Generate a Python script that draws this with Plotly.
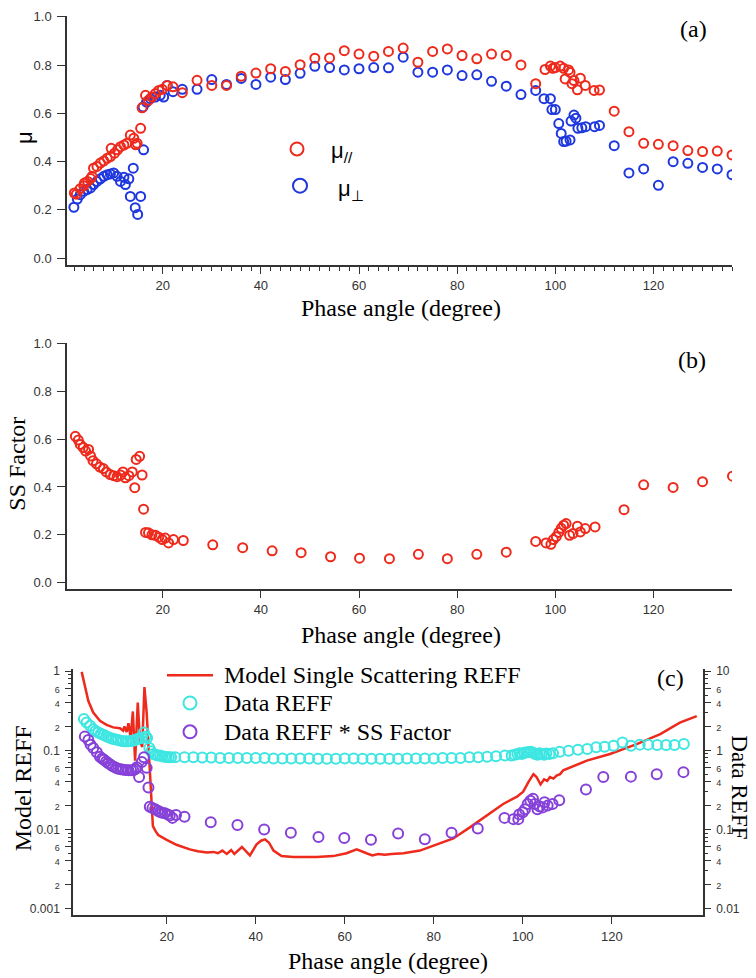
import plotly.graph_objects as go

# ---------------- data ----------------
# Panel (a): mu parallel / mu perpendicular vs phase angle
mu_par_angle = [2.0, 2.4, 3.2, 3.9, 4.05, 4.7, 5.3, 5.6, 5.9, 6.6, 7.3, 8.0, 8.7, 9.35, 9.5, 10.2, 10.8, 11.4,
                12.1, 12.7, 13.4, 14.1, 14.5, 14.8, 15.5, 15.8, 16.5, 17.1, 17.8, 18.5, 19.2, 19.9, 20.9, 22.1,
                24, 27, 30, 33, 36, 39, 42, 45, 48, 51, 54, 57, 60, 63, 66, 69, 72, 75, 78, 81, 84, 87, 90, 93,
                96, 97.9, 99.0, 99.5, 100.0, 101.0, 101.7, 102.0, 102.7, 103.0, 103.4, 103.8, 104.5, 105.1,
                106.1, 107.9, 109.0, 112, 115, 118, 121, 124, 127, 130, 133, 136]
mu_par = [0.27, 0.265, 0.288, 0.30, 0.311, 0.318, 0.33, 0.339, 0.373, 0.38, 0.394, 0.403, 0.414, 0.421, 0.455,
          0.435, 0.449, 0.462, 0.469, 0.476, 0.51, 0.497, 0.47, 0.476, 0.538, 0.623, 0.675, 0.654, 0.668, 0.682,
          0.695, 0.70, 0.716, 0.71, 0.686, 0.737, 0.716, 0.716, 0.754, 0.767, 0.785, 0.774, 0.802, 0.829, 0.830,
          0.860, 0.846, 0.837, 0.857, 0.871, 0.812, 0.857, 0.867, 0.840, 0.826, 0.846, 0.840, 0.801, 0.723,
          0.782, 0.796, 0.787, 0.79, 0.796, 0.787, 0.743, 0.78, 0.77, 0.723, 0.736, 0.698, 0.746, 0.716, 0.695,
          0.697, 0.609, 0.524, 0.476, 0.472, 0.466, 0.446, 0.442, 0.444, 0.428]

mu_perp_angle = [1.9, 2.6, 3.2, 3.9, 4.6, 5.3, 5.9, 6.6, 7.3, 8.0, 8.7, 9.35, 10.0, 10.7, 11.4, 12.1, 12.4, 13.1,
                 13.4, 14.0, 14.4, 14.9, 15.5, 16.0, 16.1, 16.7, 17.5, 18.5, 19.5, 20.2, 20.9, 22.1, 24, 27, 30,
                 33, 36, 39, 42, 45, 48, 51, 54, 57, 60, 63, 66, 69, 72, 75, 78, 81, 84, 87, 90, 93, 96, 97.7,
                 99.0, 99.3, 100.0, 100.7, 101.2, 101.7, 102.2, 103.0, 103.2, 103.8, 104.2, 104.6, 105.4, 106.2,
                 108.0, 109.0, 112, 115, 118, 121, 124, 127, 130, 133, 136]
mu_perp = [0.211, 0.245, 0.263, 0.277, 0.284, 0.291, 0.305, 0.318, 0.329, 0.339, 0.346, 0.349, 0.353, 0.339,
           0.318, 0.335, 0.305, 0.329, 0.256, 0.373, 0.209, 0.181, 0.256, 0.627, 0.449, 0.647, 0.661, 0.668,
           0.675, 0.668, 0.716, 0.69, 0.70, 0.70, 0.74, 0.72, 0.745, 0.72, 0.75, 0.74, 0.766, 0.795, 0.79, 0.78,
           0.785, 0.79, 0.789, 0.833, 0.771, 0.771, 0.78, 0.757, 0.76, 0.733, 0.713, 0.678, 0.695, 0.661, 0.661,
           0.616, 0.616, 0.558, 0.517, 0.483, 0.485, 0.49, 0.568, 0.593, 0.58, 0.538, 0.54, 0.545, 0.545, 0.55,
           0.466, 0.353, 0.37, 0.302, 0.40, 0.393, 0.376, 0.37, 0.346]

# Panel (b): SS factor
ss_angle = [2.2, 2.8, 3.2, 3.8, 4.3, 4.9, 5.3, 5.8, 6.5, 7.2, 7.9, 8.5, 9.3, 10.0, 10.7, 11.4, 11.9, 12.4, 13.1,
            13.8, 14.3, 14.6, 15.3, 15.8, 16.1, 16.5, 17.1, 17.8, 18.5, 19.2, 19.9, 20.5, 21.2, 22.2, 24.2, 30.2,
            36.3, 42.3, 48.2, 54.2, 60.1, 66.2, 72.1, 78.0, 84.0, 90.0, 96.0, 98.1, 99.1, 99.6, 100.2, 100.7,
            101.2, 101.7, 102.2, 102.9, 103.6, 104.5, 105.1, 106.1, 108.1, 114.0, 118.0, 124.0, 130.0, 136.1]
ss_factor = [0.612, 0.596, 0.578, 0.565, 0.55, 0.557, 0.53, 0.51, 0.497, 0.483, 0.477, 0.463, 0.452, 0.447, 0.443,
             0.45, 0.463, 0.438, 0.447, 0.463, 0.397, 0.515, 0.528, 0.45, 0.307, 0.21, 0.208, 0.20, 0.198, 0.19,
             0.18, 0.186, 0.166, 0.18, 0.176, 0.158, 0.146, 0.133, 0.125, 0.108, 0.102, 0.10, 0.118, 0.10, 0.118,
             0.127, 0.172, 0.166, 0.16, 0.18, 0.192, 0.21, 0.227, 0.24, 0.247, 0.198, 0.205, 0.236, 0.212, 0.226,
             0.233, 0.305, 0.409, 0.398, 0.422, 0.445]

# Panel (c): model single scattering REFF (left axis)
model_angle = [0.9, 1.6, 2.4, 3.5, 5.0, 6.5, 8.0, 9.5, 10.2, 10.5, 11.0, 11.4, 11.9, 12.4, 12.9, 13.5, 14.0, 14.5,
               15.0, 15.5, 15.9, 16.3, 16.6, 16.9, 17.5, 18.1, 20.0, 22.2, 25.2, 27.0, 29.0, 30.5, 31.5, 32.5,
               33.5, 34.5, 35.2, 36.9, 38.7, 40.2, 41.2, 42.1, 43.0, 44.0, 45.8, 48.4, 53.7, 57.4, 60.4, 62.7,
               64.9, 66.2, 67.5, 69.0, 70.5, 73.2, 76.9, 80.7, 84.4, 88.2, 91.9, 95.6, 98.7, 100.1, 101.3, 102.4,
               103.1, 104.0, 104.8, 105.5, 106.1, 106.9, 107.6, 108.4, 109.1, 114.4, 119.6, 125.6, 130.9, 135.3,
               139.1]
model_reff = [0.98, 0.68, 0.42, 0.30, 0.236, 0.21, 0.195, 0.19, 0.177, 0.20, 0.17, 0.22, 0.145, 0.31, 0.074, 0.40,
              0.13, 0.11, 0.63, 0.30, 0.12, 0.05, 0.02, 0.011, 0.0095, 0.0085, 0.0074, 0.0064, 0.0056, 0.0053,
              0.0051, 0.0052, 0.0050, 0.0054, 0.0049, 0.0055, 0.0049, 0.0060, 0.0047, 0.0065, 0.0072, 0.0075,
              0.0068, 0.0054, 0.0046, 0.0045, 0.0045, 0.0046, 0.0050, 0.0056, 0.0050, 0.0047, 0.0049, 0.0048,
              0.0049, 0.0050, 0.0054, 0.0064, 0.0077, 0.0107, 0.015, 0.021, 0.026, 0.030, 0.040, 0.050, 0.046,
              0.037, 0.043, 0.041, 0.046, 0.044, 0.048, 0.050, 0.056, 0.074, 0.090, 0.12, 0.16, 0.224, 0.27]

# Panel (c): data REFF (right axis)
reff_angle = [1.4, 2.0, 2.8, 3.5, 4.0, 4.6, 5.2, 5.8, 6.4, 6.9, 7.5, 8.0, 8.6, 9.1, 9.7, 10.2, 10.8, 11.4, 12.0,
              12.5, 13.0, 13.4, 13.9, 14.4, 14.9, 15.3, 15.6, 16.1, 16.5, 17.0, 17.5, 18.0, 18.5, 19.0, 19.5, 20.0,
              20.5, 21.0, 21.9,
              24, 26, 28, 30, 32, 34, 36, 38, 40, 42, 44, 46, 48, 50, 52, 54, 56, 58, 60, 62, 64, 66, 68, 70, 72,
              74, 76, 78, 80, 82, 84, 86, 88, 90, 92, 94, 96,
              97.5, 98.2, 98.8, 99.3, 99.8, 100.3, 100.8, 101.3, 101.8, 102.3, 102.8, 103.3, 103.8, 104.3, 104.8,
              105.3, 106.0, 106.8,
              108.3, 110.3, 112.4, 114.5, 116.5, 118.4, 120.4, 122.4, 124.3, 126.3, 128.2, 130.2, 132.2, 134.1,
              136.2]
data_reff = [2.48, 2.24, 2.04, 1.85, 1.76, 1.68, 1.62, 1.57, 1.51, 1.46, 1.42, 1.39, 1.37, 1.35, 1.32, 1.30, 1.30,
             1.30, 1.31, 1.32, 1.35, 1.39, 1.41, 1.43, 1.68, 1.50, 1.43, 1.07, 0.97, 0.90, 0.88, 0.86, 0.857, 0.84,
             0.83, 0.826, 0.82, 0.82, 0.82,
             0.82, 0.82, 0.81, 0.81, 0.80, 0.80, 0.80, 0.80, 0.80, 0.80, 0.79, 0.79, 0.79, 0.79, 0.79, 0.78, 0.78,
             0.78, 0.79, 0.79, 0.78, 0.78, 0.78, 0.78, 0.78, 0.79, 0.79, 0.79, 0.79, 0.80, 0.80, 0.80, 0.82, 0.82,
             0.83, 0.84, 0.86,
             0.86, 0.88, 0.90, 0.92, 0.90, 0.93, 0.94, 0.95, 0.96, 0.93, 0.90, 0.88, 0.92, 0.90, 0.88, 0.91, 0.90,
             0.92,
             0.96, 0.99, 1.02, 1.04, 1.09, 1.11, 1.14, 1.26, 1.14, 1.18, 1.18, 1.17, 1.17, 1.17, 1.20]

# Panel (c): data REFF * SS factor (right axis)
reff_ss_angle = [1.6, 2.4, 2.9, 3.5, 4.3, 5.0, 5.5, 5.9, 6.4, 6.9, 7.5, 8.0, 8.6, 9.1, 9.7, 10.2, 10.8, 11.4, 12.0,
                 12.5, 13.0, 13.3, 13.8, 14.4, 14.9, 15.5, 15.9, 16.2, 16.8, 17.4, 18.0, 18.5, 19.0, 19.6, 20.2,
                 20.7, 21.3, 22.1, 24.0, 29.9, 35.9, 41.9, 47.9, 54.1, 59.9, 65.9, 72.0, 78.0, 84.0, 89.9, 95.9,
                 97.9, 99.0, 99.2, 100.0, 100.5, 101.1, 101.7, 102.3, 102.7, 103.3, 103.8, 104.5, 104.9, 105.6,
                 106.7, 108.2, 114.2, 118.1, 124.3, 130.1, 136.1]
data_reff_ss = [1.49, 1.35, 1.18, 1.07, 0.944, 0.83, 0.79, 0.76, 0.72, 0.687, 0.65, 0.624, 0.60, 0.585, 0.575,
                0.57, 0.565, 0.56, 0.56, 0.56, 0.58, 0.61, 0.46, 0.71, 0.82, 0.60, 0.34, 0.193, 0.186, 0.18, 0.172,
                0.166, 0.163, 0.16, 0.155, 0.15, 0.14, 0.152, 0.145, 0.123, 0.114, 0.10, 0.091, 0.080, 0.078,
                0.074, 0.089, 0.075, 0.091, 0.103, 0.14, 0.135, 0.135, 0.155, 0.165, 0.18, 0.21, 0.23, 0.245,
                0.21, 0.18, 0.195, 0.19, 0.22, 0.20, 0.21, 0.234, 0.32, 0.46, 0.465, 0.50, 0.53]

phase_ticks = [20, 40, 60, 80, 100, 120]
lin_ticks = [0.0, 0.2, 0.4, 0.6, 0.8, 1.0]
lin_tick_labels = ["0.0", "0.2", "0.4", "0.6", "0.8", "1.0"]
left_log_ticks = [0.001, 0.002, 0.004, 0.006, 0.01, 0.02, 0.04, 0.06, 0.1, 0.2, 0.4, 0.6, 1]
left_log_labels = ["0.001", "2", "4", "6", "0.01", "2", "4", "6", "0.1", "2", "4", "6", "1"]
left_log_minor = [0.003, 0.005, 0.007, 0.008, 0.009, 0.03, 0.05, 0.07, 0.08, 0.09, 0.3, 0.5, 0.7, 0.8, 0.9]
right_log_ticks = [0.01, 0.02, 0.04, 0.06, 0.1, 0.2, 0.4, 0.6, 1, 2, 4, 6, 10]
right_log_labels = ["0.01", "2", "4", "6", "0.1", "2", "4", "6", "1", "2", "4", "6", "10"]
right_log_minor = [0.03, 0.05, 0.07, 0.08, 0.09, 0.3, 0.5, 0.7, 0.8, 0.9, 3, 5, 7, 8, 9]

# ---------------- style ----------------
W, H = 756, 978
RED = "#ee2a1c"
BLUE = "#1f37de"
CYAN = "#3ee6e2"
PURPLE = "#8641d9"
AX = "#333333"
SANS = "Liberation Sans, Arial, sans-serif"
SERIF = "Liberation Serif, Times New Roman, serif"


def fx(px):
    return px / W


def fy(py):
    return 1 - py / H


def small(lbls):
    out = []
    for t in lbls:
        if "." in t or t in ("1", "10"):
            out.append(t)
        else:
            out.append("<span style='font-size:9px'>" + t + "</span>")
    return out


def mk(c, s):
    return dict(symbol="circle-open", size=s, color=c, line=dict(width=2, color=c))


fig = go.Figure()
fig.add_trace(go.Scatter(x=mu_perp_angle, y=mu_perp, mode="markers", marker=mk(BLUE, 9),
                         xaxis="x", yaxis="y", showlegend=False))
fig.add_trace(go.Scatter(x=mu_par_angle, y=mu_par, mode="markers", marker=mk(RED, 9),
                         xaxis="x", yaxis="y", showlegend=False))
fig.add_trace(go.Scatter(x=ss_angle, y=ss_factor, mode="markers", marker=mk(RED, 9),
                         xaxis="x2", yaxis="y2", showlegend=False))
fig.add_trace(go.Scatter(x=reff_angle, y=data_reff, mode="markers", marker=mk(CYAN, 10),
                         xaxis="x3", yaxis="y4", showlegend=False))
fig.add_trace(go.Scatter(x=reff_ss_angle, y=data_reff_ss, mode="markers", marker=mk(PURPLE, 10),
                         xaxis="x3", yaxis="y4", showlegend=False))
fig.add_trace(go.Scatter(x=model_angle, y=model_reff, mode="lines", line=dict(color=RED, width=2.5),
                         xaxis="x3", yaxis="y3", showlegend=False))

tickfont = dict(family=SANS, size=13, color=AX)
common = dict(showline=True, linecolor=AX, linewidth=1.5, ticks="outside", tickcolor=AX, tickwidth=1.2,
              showgrid=False, zeroline=False)


def xaxis(domain, rng, anchor, minor=False):
    d = dict(domain=domain, range=rng, anchor=anchor, tickmode="array", tickvals=phase_ticks,
             ticklen=7, tickfont=tickfont, ticklabelstandoff=1, **common)
    if minor:
        d["minor"] = dict(dtick=2, tick0=0, ticklen=4, ticks="outside", tickcolor=AX, tickwidth=1)
    return d


def linyaxis(domain, rng, anchor):
    return dict(domain=domain, range=rng, anchor=anchor, tickmode="array", tickvals=lin_ticks,
                ticktext=lin_tick_labels, ticklen=8, tickfont=tickfont, ticklabelstandoff=3, **common)


xa = [fx(67), fx(732)]
fig.update_layout(
    width=W, height=H, margin=dict(l=0, r=0, t=0, b=0),
    paper_bgcolor="white", plot_bgcolor="white", showlegend=False,
    xaxis=xaxis(xa, [0.5, 136.0], "y", minor=True),
    yaxis=linyaxis([fy(261), fy(10)], [-0.029, 1.004], "x"),
    xaxis2=xaxis(xa, [0.5, 136.0], "y2"),
    yaxis2=linyaxis([fy(587), fy(339)], [-0.026, 1.004], "x2"),
    xaxis3=xaxis([fx(73), fx(703)], [-1.05, 140.5], "y3"),
    yaxis3=dict(domain=[fy(916), fy(668)], type="log", range=[-3.087, 0.025], anchor="x3",
                tickmode="array", tickvals=left_log_ticks, ticktext=small(left_log_labels),
                ticklen=6, tickfont=dict(family=SANS, size=12, color=AX), ticklabelstandoff=3,
                minor=dict(tickvals=left_log_minor, ticklen=3, ticks="outside", tickcolor=AX, tickwidth=1),
                **common),
    yaxis4=dict(domain=[fy(916), fy(668)], type="log", range=[-2.087, 1.025], anchor="x3",
                overlaying="y3", side="right",
                tickmode="array", tickvals=right_log_ticks, ticktext=small(right_log_labels),
                ticklen=6, tickfont=dict(family=SANS, size=12, color=AX), ticklabelstandoff=3,
                minor=dict(tickvals=right_log_minor, ticklen=3, ticks="outside", tickcolor=AX, tickwidth=1),
                **common),
)

ann = []


def text(t, px, py, size=24, family=SERIF, xanchor="center", angle=0):
    ann.append(dict(text=t, x=fx(px), y=fy(py), xref="paper", yref="paper", showarrow=False,
                    xanchor=xanchor, yanchor="middle", textangle=angle,
                    font=dict(family=family, size=size, color="black")))


text("Phase angle (degree)", 401, 304)
text("Phase angle (degree)", 401, 634)
text("Phase angle (degree)", 388, 962)
text("μ", 24, 133, size=22, family=SANS, angle=-90)
text("SS Factor", 17, 461, angle=-90)
text("Model REFF", 23, 788, angle=-90)
text("Data REFF", 740, 787, size=23, angle=90)
text("(a)", 693, 23)
text("(b)", 692, 357)
text("(c)", 670, 677)
# legend texts
text("μ<sub>//</sub>", 329, 147, size=22, family=SANS, xanchor="left")
text("μ<sub>⊥</sub>", 336, 185, size=22, family=SANS, xanchor="left")
text("Model Single Scattering REFF", 222, 674, xanchor="left")
text("Data REFF", 222, 702, xanchor="left")
text("Data REFF * SS Factor", 222, 731, xanchor="left")
fig.update_layout(annotations=ann)

shapes = []


def circ(px, py, r, color):
    shapes.append(dict(type="circle", xref="paper", yref="paper", xsizemode="pixel", ysizemode="pixel",
                       xanchor=fx(px), yanchor=fy(py), x0=-r, x1=r, y0=-r, y1=r,
                       line=dict(color=color, width=2)))


circ(297, 144, 6.5, RED)
circ(300, 181, 7, BLUE)
circ(190, 702, 6.5, CYAN)
circ(190, 731, 6.5, PURPLE)
shapes.append(dict(type="line", xref="paper", yref="paper", x0=fx(167), x1=fx(213), y0=fy(674), y1=fy(674),
                   line=dict(color=RED, width=2.5)))
fig.update_layout(shapes=shapes)

fig.write_html("out.html", config={"displayModeBar": False},
               post_script="document.body.style.margin='0px';")
